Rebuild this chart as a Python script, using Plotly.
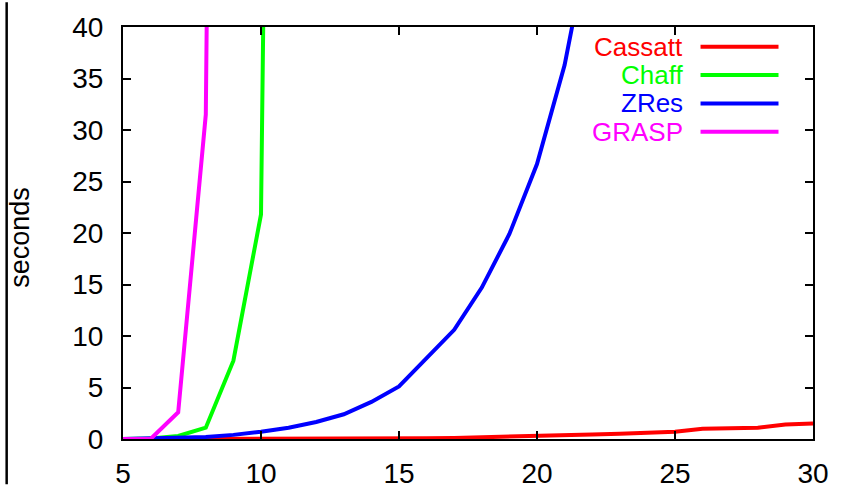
import plotly.graph_objects as go

n_vars = list(range(5, 31))

cassatt = [0, 0, 0.01, 0.01, 0.02, 0.02, 0.03, 0.03, 0.04, 0.05, 0.06, 0.08, 0.1, 0.15, 0.2,
           0.3, 0.38, 0.44, 0.5, 0.58, 0.7, 1.0, 1.05, 1.1, 1.4, 1.5]
chaff_x = [5, 6, 7, 8, 9, 10, 11]
chaff = [0, 0.05, 0.3, 1.1, 7.6, 21.8, 250]
zres_x = list(range(5, 23))
zres = [0, 0.05, 0.1, 0.2, 0.4, 0.7, 1.1, 1.65, 2.4, 3.6, 5.1, 7.8, 10.6, 14.7, 19.9, 26.7, 36.3, 50]
grasp_x = [5, 6, 7, 8, 9]
grasp = [0, 0, 2.6, 31.5, 300]

series_names = ["Cassatt", "Chaff", "ZRes", "GRASP"]
series_colors = ["#ff0000", "#00ff00", "#0000ff", "#ff00ff"]

x_ticks = [5, 10, 15, 20, 25, 30]
y_ticks = [0, 5, 10, 15, 20, 25, 30, 35, 40]

FONT = "Arial, 'Liberation Sans', Helvetica, sans-serif"

fig = go.Figure()
data = [(n_vars, cassatt), (chaff_x, chaff), (zres_x, zres), (grasp_x, grasp)]
for (xs, ys), name, col in zip(data, series_names, series_colors):
    fig.add_trace(go.Scatter(x=xs, y=ys, mode="lines", name=name,
                             line=dict(color=col, width=4), showlegend=False,
                             cliponaxis=True))

# manual gnuplot-style legend (text right-aligned, sample line on the right)
leg_y = [0.9519, 0.8833, 0.8146, 0.7460]
shapes = []
annotations = []
for name, col, yy in zip(series_names, series_colors, leg_y):
    annotations.append(dict(x=0.813, y=yy, xref="paper", yref="paper", text=name,
                            showarrow=False, xanchor="right", yanchor="middle",
                            borderpad=0,
                            font=dict(family=FONT, size=26, color=col)))
    shapes.append(dict(type="line", xref="paper", yref="paper", x0=0.837, x1=0.950,
                       y0=yy, y1=yy, line=dict(color=col, width=4)))

# left frame line of the slide
shapes.append(dict(type="line", xref="paper", yref="paper", x0=-0.1686, x1=-0.1686,
                   y0=-0.11, y1=1.06, line=dict(color="black", width=2.5)))

annotations.append(dict(x=-0.1484, y=0.49, xref="paper", yref="paper", text="seconds",
                        showarrow=False, textangle=-90, xanchor="center", yanchor="middle",
                        font=dict(family=FONT, size=27, color="black")))

fig.update_layout(
    width=841, height=501,
    margin=dict(l=123, r=24, t=20, b=44),
    paper_bgcolor="white", plot_bgcolor="white",
    font=dict(family=FONT, size=28, color="black"),
    shapes=shapes, annotations=annotations,
    showlegend=False,
)
fig.update_xaxes(range=[5, 30], tickvals=x_ticks, ticktext=[str(v) for v in x_ticks],
                 showgrid=False, zeroline=False, showline=True, linecolor="black",
                 linewidth=2, mirror="ticks", ticks="inside", ticklen=8, tickwidth=1.5,
                 tickcolor="black", ticklabelstandoff=8,
                 tickfont=dict(family=FONT, size=28, color="black"))
fig.update_yaxes(range=[0, 40], tickvals=y_ticks, ticktext=[str(v) for v in y_ticks],
                 showgrid=False, zeroline=False, showline=True, linecolor="black",
                 linewidth=2, mirror="ticks", ticks="inside", ticklen=8, tickwidth=1.5,
                 tickcolor="black", ticklabelstandoff=12,
                 tickfont=dict(family=FONT, size=28, color="black"))

fig.write_html("out.html", config={"displayModeBar": False},
               post_script="document.body.style.margin='0';document.body.style.padding='0';")
